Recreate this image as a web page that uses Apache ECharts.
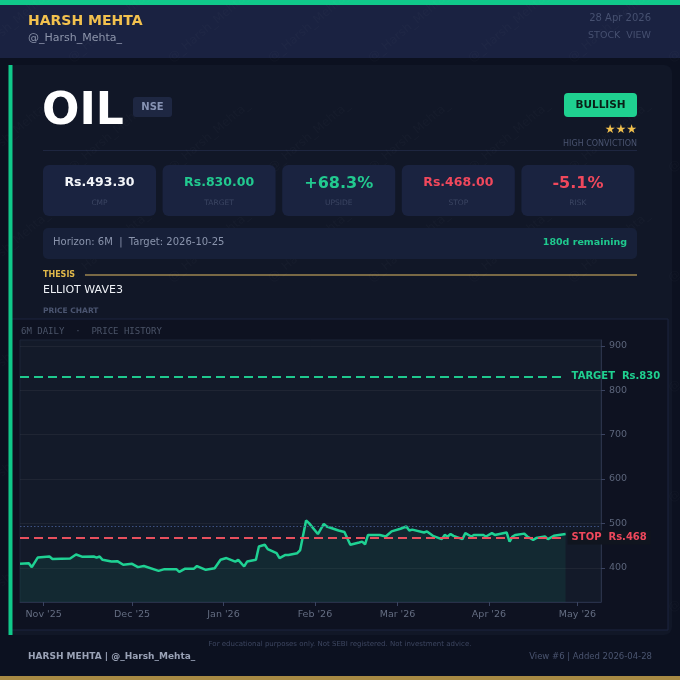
<!DOCTYPE html>
<html>
<head>
<meta charset="utf-8">
<script src="https://cdn.jsdelivr.net/npm/echarts@6/dist/echarts.min.js"></script>
<style>
html,body{margin:0;padding:0;background:#0c1120;}
#c{width:680px;height:680px;}
</style>
</head>
<body>
<div id="c"></div>
<script>
// ---------- DATA ----------
const priceDates = [
  '2025-10-24','2025-10-27','2025-10-28','2025-10-30','2025-11-03','2025-11-04','2025-11-10','2025-11-12',
  '2025-11-14','2025-11-18','2025-11-19','2025-11-20','2025-11-21','2025-11-24','2025-11-26','2025-11-28',
  '2025-12-01','2025-12-03','2025-12-05','2025-12-10','2025-12-12','2025-12-16','2025-12-17','2025-12-19',
  '2025-12-22','2025-12-23','2025-12-26','2025-12-29','2025-12-31','2026-01-02','2026-01-05','2026-01-06',
  '2026-01-08','2026-01-09','2026-01-12','2026-01-13','2026-01-15','2026-01-16','2026-01-19','2026-01-20',
  '2026-01-22','2026-01-23','2026-01-26','2026-01-27','2026-01-29','2026-01-30','2026-02-02','2026-02-04',
  '2026-02-05','2026-02-09','2026-02-11','2026-02-13','2026-02-16','2026-02-17','2026-02-18','2026-02-19',
  '2026-02-23','2026-02-25','2026-02-27','2026-03-02','2026-03-04','2026-03-05','2026-03-06','2026-03-10',
  '2026-03-11','2026-03-13','2026-03-16','2026-03-17','2026-03-18','2026-03-19','2026-03-20','2026-03-23',
  '2026-03-24','2026-03-26','2026-03-27','2026-03-30','2026-03-31','2026-04-02','2026-04-03','2026-04-07',
  '2026-04-08','2026-04-09','2026-04-10','2026-04-13','2026-04-14','2026-04-16','2026-04-17','2026-04-20',
  '2026-04-21','2026-04-23','2026-04-27'
];
const priceValues = [
  409, 410, 401.5, 423, 425.5, 420, 421, 430,
  425, 425.5, 423, 425.5, 418, 414, 415, 407,
  409, 401.5, 404, 393, 397, 397, 391, 398,
  398, 404, 395.5, 399, 418, 422, 414, 418,
  403, 414, 418, 448, 452, 442, 433, 422,
  429, 429, 433, 440, 506.6, 500.6, 476, 499,
  493, 484, 480.5, 452, 457, 459, 453, 474,
  474, 470.5, 482, 488, 493, 484, 486, 479.5,
  482, 472, 464.6, 474, 470.5, 476, 472, 464.6,
  478, 470.5, 474, 474, 470.5, 478, 474, 479.5,
  459, 470.5, 474, 477, 470.5, 463, 467, 470.5,
  464.6, 472, 476
];
const monthTicks  = ['2025-11-01','2025-12-01','2026-01-01','2026-02-01','2026-03-01','2026-04-01','2026-05-01'];
const monthLabels = ["Nov '25","Dec '25","Jan '26","Feb '26","Mar '26","Apr '26","May '26"];
const yTicks = [400, 500, 600, 700, 800, 900];
const xAxisEnd = '2026-05-09';

const cmpPrice = 493.30;
const targetPrice = 830;
const stopPrice = 468;

const metricValues = ['Rs.493.30', 'Rs.830.00', '+68.3%', 'Rs.468.00', '-5.1%'];
const metricLabels = ['CMP', 'TARGET', 'UPSIDE', 'STOP', 'RISK'];

// ---------- HELPERS ----------
function ts(s) { const p = s.split('-'); return Date.UTC(+p[0], +p[1] - 1, +p[2]); }

const FONT = 'DejaVu Sans';
const GREEN = '#1fd193';
const RED = '#f0485c';
const GOLD = '#f2c14e';
const metricColors = ['#f3f5f9', '#22c98f', '#22c98f', RED, RED];
const metricSizes = [12.5, 12.5, 16, 12.5, 16];

function T(text, x, y, size, color, o) {
  o = o || {};
  const al = o.align || 'left';
  return {
    type: 'text', x: x, y: y, z: 20, silent: true, rotation: o.rotation || 0,
    style: {
      text: text, fill: color, fontSize: size, fontFamily: o.family || FONT,
      fontWeight: o.bold ? 'bold' : 'normal',
      align: al, textAlign: al, verticalAlign: 'middle', textVerticalAlign: 'middle',
      opacity: o.opacity == null ? 1 : o.opacity
    }
  };
}
function R(x, y, w, h, fill, r, z, stroke) {
  return {
    type: 'rect', z: z == null ? -10 : z, silent: true,
    shape: { x: x, y: y, width: w, height: h, r: r || 0 },
    style: { fill: fill, stroke: stroke || null, lineWidth: stroke ? 1 : 0 }
  };
}
function L(x1, y1, x2, y2, color, w, z) {
  return { type: 'line', z: z == null ? -9 : z, silent: true,
    shape: { x1: x1, y1: y1, x2: x2, y2: y2 }, style: { stroke: color, lineWidth: w || 1 } };
}

const graphics = [];
graphics.push(R(0, 0, 680, 58, '#1a2241', 0, -12));
graphics.push(R(0, 0, 680, 5, '#10c98a', 0, -11));
graphics.push(R(0, 676, 680, 4, '#a88a44', 0, -11));
graphics.push(R(8, 65, 664, 570, '#111727', 8, -12));
for (let gx = -30; gx < 720; gx += 100) {
  for (let gy = 60; gy < 720; gy += 110) {
    const t = T('@_Harsh_Mehta_', gx, gy, 12, '#ffffff', { rotation: 0.7, opacity: 0.025 });
    t.z = -7;
    graphics.push(t);
  }
}
graphics.push(T('HARSH MEHTA', 28, 21, 14, GOLD, { bold: true }));
graphics.push(T('@_Harsh_Mehta_', 28, 38, 11, '#8d95ab'));
graphics.push(T('28 Apr 2026', 651, 18, 10, '#465070', { align: 'right' }));
graphics.push(T('STOCK  VIEW', 651, 36, 9.5, '#465070', { align: 'right' }));
graphics.push(T('OIL', 42, 113, 44, '#ffffff', { bold: true }));
graphics.push(R(133, 97, 39, 20, '#1e2742', 3, -6));
graphics.push(T('NSE', 152.5, 107, 10, '#8793b4', { bold: true, align: 'center' }));
graphics.push(R(564, 93, 73, 24, '#1fd190', 4, -6));
graphics.push(T('BULLISH', 600.5, 105, 10.5, '#0a1f17', { bold: true, align: 'center' }));
graphics.push(T('★★★', 637, 130, 12, GOLD, { align: 'right' }));
graphics.push(T('HIGH CONVICTION', 637, 144, 8, '#4a5470', { align: 'right' }));
graphics.push(L(43, 150.5, 637, 150.5, '#1e2640', 1));
for (let i = 0; i < metricValues.length; i++) {
  const bx = 43 + i * 119.6;
  graphics.push(R(bx, 165, 113, 51, '#1a2340', 6, -6));
  graphics.push(T(metricValues[i], bx + 56.5, i === 2 || i === 4 ? 184 : 183, metricSizes[i], metricColors[i], { bold: true, align: 'center' }));
  graphics.push(T(metricLabels[i], bx + 56.5, 203.5, 7.5, '#3b4562', { align: 'center' }));
}
graphics.push(R(43, 228, 594, 31, '#172039', 5, -6));
graphics.push(T('Horizon: 6M  |  Target: 2026-10-25', 53, 242.5, 10, '#8a94ac'));
graphics.push(T('180d remaining', 627, 242.5, 9.5, '#1fc98e', { bold: true, align: 'right' }));
graphics.push(T('THESIS', 43, 275, 8, '#e0b84a', { bold: true }));
graphics.push(L(85, 275, 637, 275, '#9c8650', 1.5));
graphics.push(T('ELLIOT WAVE3', 43, 290.5, 11, '#eef1f6'));
graphics.push(T('PRICE CHART', 43, 311, 7.5, '#4b5570', { bold: true }));
graphics.push(R(10, 319, 658, 311, '#0e1221', 0, -6, '#1d2540'));
graphics.push(R(8.5, 65, 4, 570, '#10c98a', 0, -4));
graphics.push(T('6M DAILY  \u00b7  PRICE HISTORY', 21, 332, 9, '#4b5468', { family: 'DejaVu Sans Mono' }));
graphics.push(T('For educational purposes only. Not SEBI registered. Not investment advice.', 340, 644.5, 7, '#3d4660', { align: 'center' }));
graphics.push(T('HARSH MEHTA | @_Harsh_Mehta_', 28, 657, 9, '#9aa2b6', { bold: true }));
graphics.push(T('View #6 | Added 2026-04-28', 652, 657, 8.5, '#4b5570', { align: 'right' }));

// ---------- CHART ----------
const firstT = ts(priceDates[0]);
const lastT = ts(priceDates[priceDates.length - 1]);
const monthTickT = monthTicks.map(ts);
function monthLabelFor(v) {
  for (let i = 0; i < monthTickT.length; i++) {
    if (Math.abs(monthTickT[i] - v) < 43200000) return monthLabels[i];
  }
  return '';
}
const levelLabel = (txt, color, bg) => ({
  show: true, position: 'end', distance: 2, formatter: txt, color: color,
  fontFamily: FONT, fontWeight: 'bold', fontSize: 10,
  backgroundColor: bg, padding: [2, 4]
});

const chart = echarts.init(document.getElementById('c'), null, { renderer: 'canvas' });
chart.setOption({
  animation: false,
  backgroundColor: '#0c1120',
  textStyle: { fontFamily: FONT },
  graphic: { elements: graphics },
  grid: {
    left: 20, top: 340, width: 581, height: 262,
    show: true, backgroundColor: '#131a29', borderColor: '#1d2538', borderWidth: 1
  },
  xAxis: {
    type: 'value', min: firstT, max: ts(xAxisEnd),
    axisLine: { show: true, lineStyle: { color: '#283049' } },
    axisTick: { show: true, customValues: monthTickT, length: 4, lineStyle: { color: '#3a4360' } },
    axisLabel: { customValues: monthTickT, formatter: (v) => monthLabelFor(v), color: '#646d82', fontSize: 9.5, margin: 8, fontFamily: FONT },
    splitLine: { show: false }
  },
  yAxis: {
    type: 'value', position: 'right', min: 323, max: 913,
    axisLine: { show: true, lineStyle: { color: '#2a3249' } },
    axisTick: { show: true, customValues: yTicks, length: 4, lineStyle: { color: '#3a4360' } },
    axisLabel: { customValues: yTicks, color: '#5c657b', fontSize: 9.5, margin: 8, fontFamily: FONT },
    splitLine: { show: true, lineStyle: { color: 'rgba(255,255,255,0.05)' } }
  },
  series: [{
    type: 'line',
    data: priceDates.map((d, i) => [ts(d), priceValues[i]]),
    symbol: 'none', showSymbol: false, smooth: false,
    lineStyle: { color: GREEN, width: 2.5 },
    areaStyle: { color: 'rgba(22,200,140,0.13)' },
    markLine: {
      silent: true, symbol: 'none',
      data: [
        [{ coord: [firstT, targetPrice], lineStyle: { color: '#1fc98e', width: 2, type: [9, 5] }, label: levelLabel('TARGET  Rs.830', '#1fd190', 'transparent') },
         { coord: [lastT, targetPrice] }],
        [{ coord: [firstT, stopPrice], lineStyle: { color: '#e8505e', width: 2, type: [9, 5] }, label: levelLabel('STOP  Rs.468', '#f0485c', '#10151f') },
         { coord: [lastT, stopPrice] }],
        { yAxis: cmpPrice, lineStyle: { color: '#3e5283', width: 1, type: [1.5, 2] }, label: { show: false } }
      ]
    }
  }]
});
</script>
</body>
</html>
